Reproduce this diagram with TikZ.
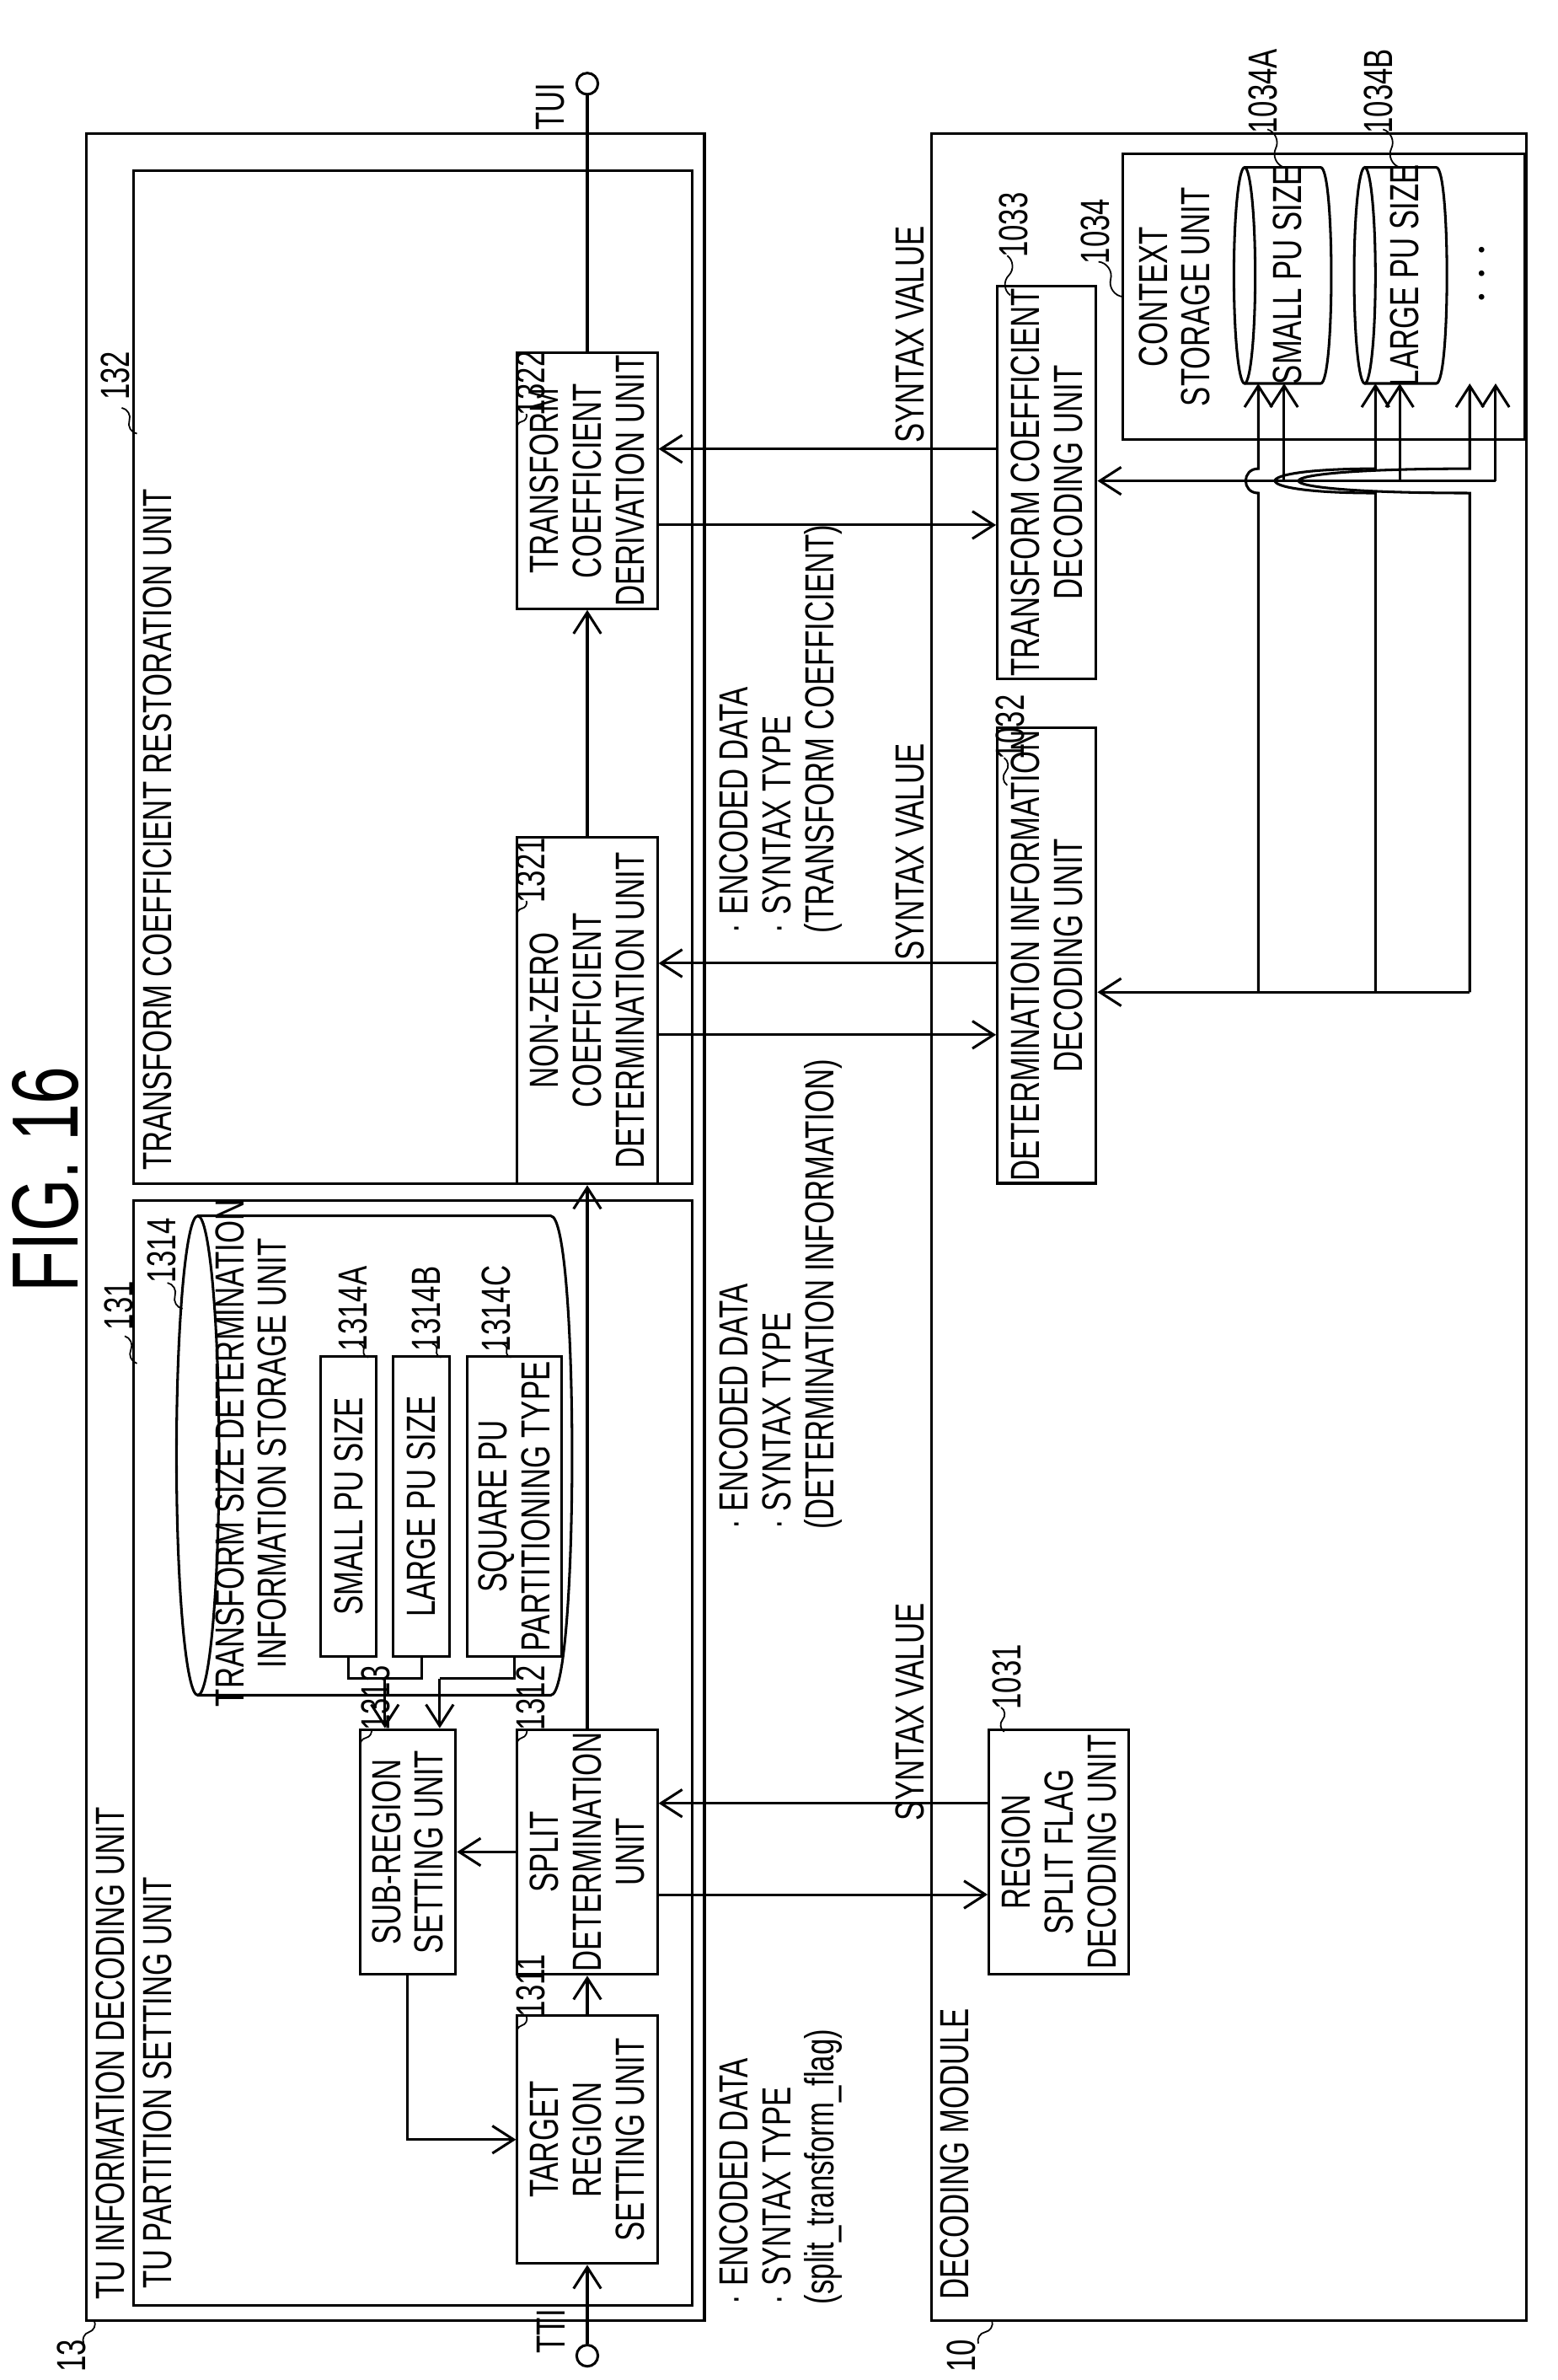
\documentclass[tikz,border=0pt]{standalone}
\usepackage{fontspec}
\setmainfont{Liberation Sans}[FakeStretch=0.72]
\usetikzlibrary{arrows.meta,calc}

\tikzset{
  bx/.style 2 args={draw, line width=1.2pt, rotate=90, align=center, inner sep=1pt,
    minimum width=#1*0.25mm, minimum height=#2*0.25mm},
  txt/.style={rotate=90, align=center, inner sep=0pt},
  arr/.style={-{Straight Barb[length=3.5mm,width=4.5mm,line width=1.2pt]}},
  ld/.style={line width=0.7pt},
}
\newcommand\lead[2]{\draw[ld] (#1) to[bend left=50] ($(#1)!0.5!(#2)$) to[bend right=50] (#2);}
\newcommand\cyl[5]{% x1, x2, y1, y2, bulge
  \draw[line width=1.2pt] (#1+#5,#3) -- (#2-#5,#3) .. controls (#2+#5/3,#3) and (#2+#5/3,#4) .. (#2-#5,#4) -- (#1+#5,#4);
  \draw[line width=1.2pt] ({#1+#5},{(#3+#4)/2}) ellipse[x radius=#5, y radius={(#4-#3)/2}];}

\begin{document}
\begin{tikzpicture}[x=0.25mm, y=-0.25mm, line width=1.2pt, font=\fontsize{19}{20}\selectfont]
\useasboundingbox (0,0) rectangle (1024,1564);

\node[txt, font=\fontsize{44}{44}\selectfont] (fig) at (30,775) {FIG. 16};

% outer frames
\draw (57,88) rectangle (463,1525);
\draw (88,789) rectangle (455,1515);
\draw (88,112) rectangle (455,778);
\draw (612,88) rectangle (1003,1525);
\node[txt, anchor=north west] (t13) at (62,1512) {TU INFORMATION DECODING UNIT};
\node[txt, anchor=north west] (t131) at (93,1505) {TU PARTITION SETTING UNIT};
\node[txt, anchor=north west] (t132) at (93,770) {TRANSFORM COEFFICIENT RESTORATION UNIT};
\node[txt, anchor=north west] (t10) at (617,1512) {DECODING MODULE};

% TU partition setting unit
\node[bx={163}{92}] (n1311) at (386,1406) {TARGET\\REGION\\SETTING UNIT};
\node[bx={161}{92}] (n1312) at (386,1217) {SPLIT\\DETERMINATION\\UNIT};
\node[bx={161}{63}] (n1313) at (268,1217) {SUB-REGION\\SETTING UNIT};
\cyl{116}{376}{799}{1114}{14}
\node[txt] (t1314) at (165,955) {TRANSFORM SIZE DETERMINATION\\INFORMATION STORAGE UNIT};
\node[bx={197}{37}] (n1314a) at (229,990) {SMALL PU SIZE};
\node[bx={197}{37}] (n1314b) at (277,990) {LARGE PU SIZE};
\node[bx={197}{62}] (n1314c) at (338,990) {SQUARE PU\\PARTITIONING TYPE};

% transform coefficient restoration unit
\node[bx={228}{92}] (n1321) at (386,664) {NON-ZERO\\COEFFICIENT\\DETERMINATION UNIT};
\node[bx={168}{92}] (n1322) at (386,316) {TRANSFORM\\COEFFICIENT\\DERIVATION UNIT};

% decoding module
\node[bx={161}{92}] (n1031) at (696,1217) {REGION\\SPLIT FLAG\\DECODING UNIT};
\node[bx={223}{65}] (n1032) at (688,628) {DETERMINATION INFORMATION\\DECODING UNIT};
\node[bx={245}{65}] (n1033) at (688,317) {TRANSFORM COEFFICIENT\\DECODING UNIT};
\draw (738,101) rectangle (1002,289);
\node[txt] (t1034) at (772,195) {CONTEXT\\STORAGE UNIT};
\cyl{811}{875}{110}{252}{7}
\node[txt] (n1034a) at (846,181) {SMALL PU SIZE};
\cyl{890}{951}{110}{252}{7}
\node[txt] (n1034b) at (923,181) {LARGE PU SIZE};
\node[txt, font=\fontsize{26}{26}\selectfont] (dots) at (975,180) {$\cdots$};

% terminals
\node[draw, circle, minimum size=14*0.25mm, inner sep=0pt] (tti) at (386,1548) {};
\node[draw, circle, minimum size=14*0.25mm, inner sep=0pt] (tui) at (386,55) {};
\node[txt, anchor=south] (ttil) at (372,1532) {TTI};
\node[txt, anchor=south] (tuil) at (372,70) {TUI};

% data flow inside 13
\draw[arr] (tti) -- (n1311.west);
\draw[arr] (n1311.east) -- (n1312.west);
\draw[arr] (n1312.north) -- (n1313.south);
\draw[arr] (n1313.west) |- (n1311.north);
\draw[arr] (n1312.east) -- (n1321.west);
\draw[arr] (n1321.east) -- (n1322.west);
\draw (n1322.east) -- (tui);
\coordinate (jab) at (253,1103);
\coordinate (jc) at (289,1103);
\draw (n1314a.west) |- (jab) -| (n1314b.west);
\draw[arr] (jab) -- (jab |- n1313.east);
\draw (n1314c.west) |- (jc);
\draw[arr] (jc) -- (jc |- n1313.east);

% exchanges with decoding module
\coordinate (ya) at (0,1245); \coordinate (yb) at (0,1185);
\coordinate (yc) at (0,680);  \coordinate (yd) at (0,633);
\coordinate (ye) at (0,345);  \coordinate (yf) at (0,295);
\draw[arr] (n1312.south |- ya) -- (n1031.north |- ya);
\draw[arr] (n1031.north |- yb) -- (n1312.south |- yb);
\draw[arr] (n1321.south |- yc) -- (n1032.north |- yc);
\draw[arr] (n1032.north |- yd) -- (n1321.south |- yd);
\draw[arr] (n1322.south |- ye) -- (n1033.north |- ye);
\draw[arr] (n1033.north |- yf) -- (n1322.south |- yf);

\node[txt, anchor=north west, align=left] (ed1) at (472,1515) {· ENCODED DATA\\· SYNTAX TYPE\\(split\_transform\_flag)};
\node[txt, anchor=north west, align=left] (ed2) at (472,1006) {· ENCODED DATA\\· SYNTAX TYPE\\(DETERMINATION INFORMATION)};
\node[txt, anchor=north west, align=left] (ed3) at (472,614) {· ENCODED DATA\\· SYNTAX TYPE\\(TRANSFORM COEFFICIENT)};
\node[txt] (sv1) at (598,1125) {SYNTAX VALUE};
\node[txt] (sv2) at (598,560) {SYNTAX VALUE};
\node[txt] (sv3) at (598,220) {SYNTAX VALUE};

% context storage links
\draw[arr] (966,652) -- (n1032.south |- 0,652);
\draw[arr] (983,316) -- (n1033.south |- 0,316);
\draw (983,316) -- (983,300);
\foreach \x in {827,904,966}{
  \draw[arr] (\x,652) -- (\x,324) .. controls (816,324) and (816,308) .. (\x,308) -- (\x,252);
}
\foreach \x in {844,920,983}{
  \draw[arr] (\x,316) -- (\x,252);
}

% reference labels
\node[txt] (l13) at (47,1548) {13}; \lead{62,1525}{55,1540}
\node[txt] (l10) at (632,1548) {10}; \lead{652,1525}{643,1540}
\node[txt] (l131) at (78,858) {131}; \lead{90,896}{82,878}
\node[txt] (l132) at (76,247) {132}; \lead{90,285}{80,268}
\node[txt] (l1311) at (349,1305) {1311}; \lead{340,1337}{346,1325}
\node[txt] (l1312) at (349,1116) {1312}; \lead{340,1148}{346,1136}
\node[txt] (l1313) at (247,1116) {1313}; \lead{237,1148}{244,1136}
\node[txt] (l1314) at (106,822) {1314}; \lead{120,860}{110,843}
\node[txt] (l1314a) at (232,860) {1314A}; \lead{242,892}{236,883}
\node[txt] (l1314b) at (280,860) {1314B}; \lead{290,892}{284,883}
\node[txt] (l1314c) at (326,860) {1314C}; \lead{336,892}{330,883}
\node[txt] (l1321) at (349,572) {1321}; \lead{340,602}{346,592}
\node[txt] (l1322) at (349,252) {1322}; \lead{340,282}{346,272}
\node[txt] (l1031) at (662,1102) {1031}; \lead{660,1138}{658,1122}
\node[txt] (l1032) at (664,478) {1032}; \lead{662,516}{660,498}
\node[txt] (l1033) at (666,148) {1033}; \lead{664,194}{662,168}
\node[txt] (l1034) at (720,152) {1034}; \lead{738,195}{722,172}
\node[txt] (l1034a) at (830,60) {1034A}; \lead{844,110}{833,85}
\node[txt] (l1034b) at (906,60) {1034B}; \lead{920,110}{909,85}
\end{tikzpicture}
\end{document}
